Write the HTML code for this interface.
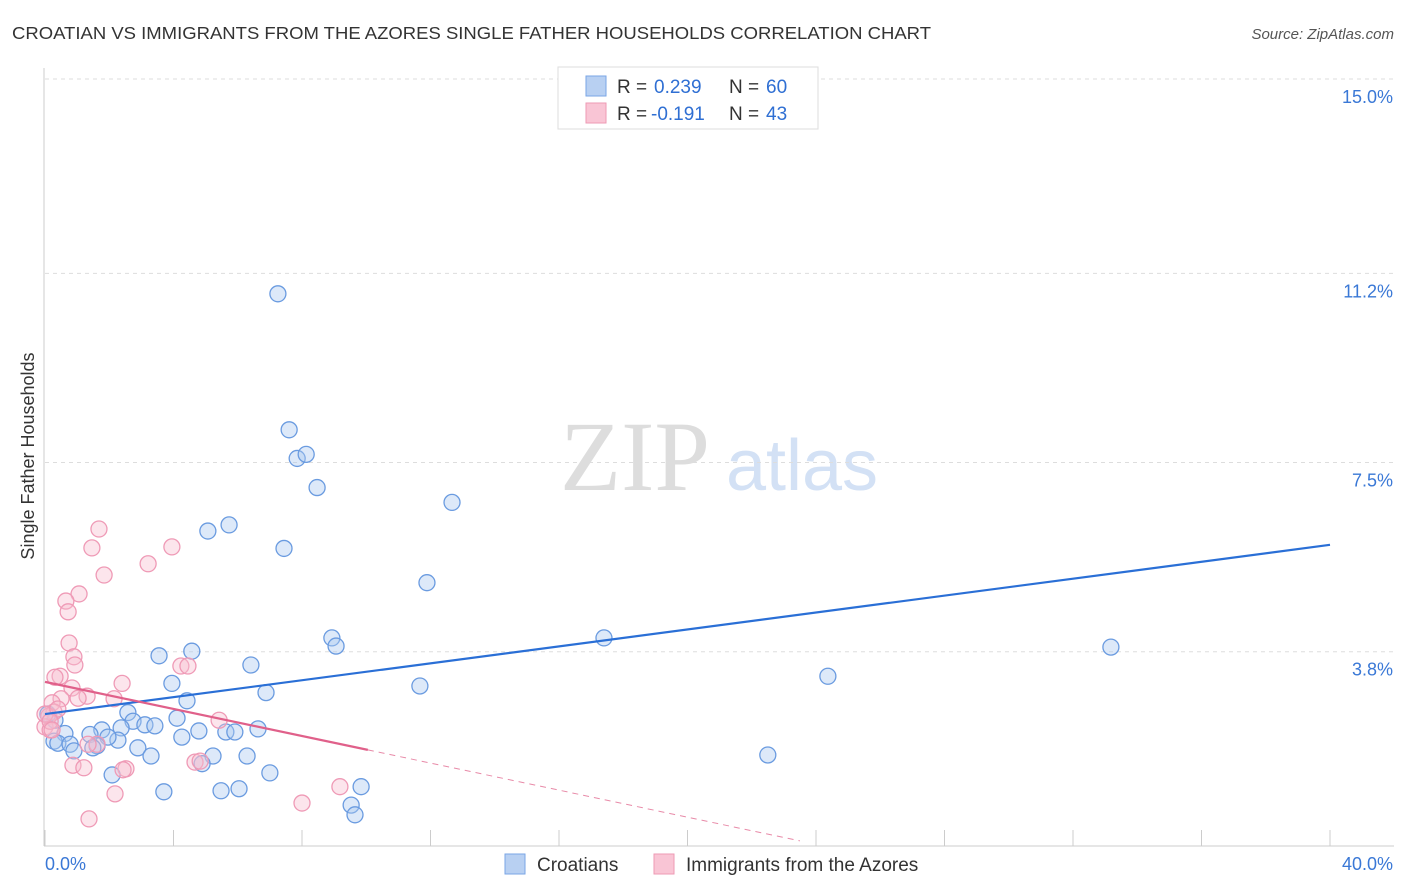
<!DOCTYPE html>
<html><head><meta charset="utf-8"><style>
body{margin:0;background:#fff;font-family:"Liberation Sans",sans-serif;}
svg{display:block}
</style></head><body>
<svg width="1406" height="892" viewBox="0 0 1406 892" xmlns="http://www.w3.org/2000/svg">
<text x="12" y="39" font-size="17.5" fill="#333" textLength="919" lengthAdjust="spacingAndGlyphs">CROATIAN VS IMMIGRANTS FROM THE AZORES SINGLE FATHER HOUSEHOLDS CORRELATION CHART</text>
<text x="1394" y="39" font-size="15" fill="#555" font-style="italic" text-anchor="end">Source: ZipAtlas.com</text>
<text x="635" y="490" font-size="100" fill="#ddd" font-family="Liberation Serif,serif" text-anchor="middle">ZIP</text>
<text x="802" y="490" font-size="72" fill="#d3e1f5" text-anchor="middle">atlas</text>
<g id="grid"></g>
<line x1="44" y1="68" x2="44" y2="846" stroke="#ccc"/>
<line x1="44" y1="846" x2="1394" y2="846" stroke="#ccc"/>
<text x="34" y="456" font-size="18" fill="#333" text-anchor="middle" transform="rotate(-90 34 456)">Single Father Households</text>
<g id="pts"></g>
<g id="trend"></g>
<g>
<rect x="558" y="67" width="260" height="62" fill="#fff" stroke="#ddd"/>
<rect x="586" y="76" width="20" height="20" fill="#b8d0f2" stroke="#7aa6e6"/>
<rect x="586" y="103" width="20" height="20" fill="#f9c5d5" stroke="#ee9ab4"/>
<text x="617" y="93" font-size="19" fill="#333">R =</text>
<text x="654" y="93" font-size="19" fill="#2f6fd3">0.239</text>
<text x="729" y="93" font-size="19" fill="#333">N =</text>
<text x="766" y="93" font-size="19" fill="#2f6fd3">60</text>
<text x="617" y="120" font-size="19" fill="#333">R =</text>
<text x="651" y="120" font-size="19" fill="#2f6fd3">-0.191</text>
<text x="729" y="120" font-size="19" fill="#333">N =</text>
<text x="766" y="120" font-size="19" fill="#2f6fd3">43</text>
</g>
<text x="45" y="870" font-size="18" fill="#3a78d6">0.0%</text>
<text x="1393" y="870" font-size="18" fill="#3a78d6" text-anchor="end">40.0%</text>
<g>
<rect x="505" y="854" width="20" height="20" fill="#b8d0f2" stroke="#7aa6e6"/>
<text x="537" y="871" font-size="19" fill="#333">Croatians</text>
<rect x="654" y="854" width="20" height="20" fill="#f9c5d5" stroke="#ee9ab4"/>
<text x="686" y="871" font-size="19" fill="#333">Immigrants from the Azores</text>
</g>
</svg>
<script>
const yTicks=[15.0,11.2,7.5,3.8];
const yTickLabels=["15.0%","11.2%","7.5%","3.8%"];
const xTicks=[0,4,8,12,16,20,24,28,32,36,40];
const croatX=[7.25,7.6,7.85,8.13,8.47,12.67,5.73,5.07,7.44,11.89,17.4,33.18,8.93,9.06,3.55,4.57,6.41,3.95,6.88,11.67,24.37,4.42,2.58,4.11,2.74,3.11,3.42,0.31,0.09,1.77,2.37,1.4,0.62,4.79,5.63,5.91,6.63,4.26,2.27,1.96,0.28,0.40,0.78,1.62,1.49,2.89,0.90,3.30,5.23,6.29,4.89,22.5,2.09,7.0,3.7,5.48,6.04,9.84,9.53,9.65];
const croatY=[10.8,8.14,7.58,7.66,7.01,6.72,6.28,6.16,5.82,5.15,4.07,3.89,4.07,3.91,3.72,3.81,3.54,3.18,3.0,3.13,3.32,2.84,2.61,2.5,2.44,2.37,2.35,2.46,2.58,2.27,2.31,2.18,2.2,2.25,2.23,2.23,2.29,2.13,2.07,2.13,2.05,2.01,1.99,1.96,1.92,1.92,1.86,1.76,1.76,1.76,1.61,1.78,1.39,1.43,1.06,1.08,1.12,1.16,0.80,0.61];
const azoresX=[1.68,1.46,3.95,1.84,3.21,1.06,0.65,0.72,0.75,0.90,0.93,4.23,4.45,0.47,2.40,0.31,0.84,1.31,1.03,0.50,2.15,0.22,0.28,0.12,5.42,0,0.16,1.62,0.87,1.21,2.52,4.67,9.18,2.18,8.0,1.37,0,0.40,1.34,2.43,4.83,0.16,0.22];
const azoresY=[6.2,5.83,5.85,5.3,5.52,4.93,4.79,4.58,3.97,3.7,3.54,3.52,3.52,3.32,3.18,3.3,3.09,2.93,2.89,2.88,2.88,2.80,2.62,2.54,2.46,2.33,2.27,1.99,1.58,1.53,1.51,1.64,1.16,1.02,0.84,0.53,2.58,2.68,1.99,1.49,1.66,2.44,2.27];
const blueTrend=[2.58,5.89];
const pinkStart=[0,3.21], pinkSolidEnd=[10.05,1.88], pinkDashEnd=[23.5,0.1];
const X=v=>45+v*32.125, Y=v=>846-v*51.13;
const NS="http://www.w3.org/2000/svg";
function mk(t,a,p){const e=document.createElementNS(NS,t);for(const k in a)e.setAttribute(k,a[k]);p.appendChild(e);return e;}
const grid=document.getElementById('grid');
yTicks.forEach((v,i)=>{
 const l=mk('line',{x1:45,x2:1394,y1:Y(v),y2:Y(v),stroke:'#ddd','stroke-dasharray':'4,4'},grid);
 
 
 const t=mk('text',{x:1393,y:Y(v)+24,'font-size':18,fill:'#3a78d6','text-anchor':'end'},grid);
 t.textContent=yTickLabels[i];
 
 
});
xTicks.forEach(v=>{
 const l=mk('line',{x1:X(v),x2:X(v),y1:830,y2:846,stroke:'#ccc'},grid);
 
 
});
const pts=document.getElementById('pts');
croatX.forEach((x,i)=>{
 const c=mk('circle',{cx:X(x),cy:Y(croatY[i]),r:8,fill:'rgba(170,200,240,0.4)',stroke:'#6a9be0','stroke-width':1.3},pts);
 
 
});
azoresX.forEach((x,i)=>{
 const c=mk('circle',{cx:X(x),cy:Y(azoresY[i]),r:8,fill:'rgba(248,190,208,0.4)',stroke:'#ef9ab6','stroke-width':1.3},pts);
 
 
});
const tr=document.getElementById('trend');
const b=mk('line',{x1:X(0),y1:Y(blueTrend[0]),x2:X(40),y2:Y(blueTrend[1]),stroke:'#2a6fd6','stroke-width':2.2},tr);


const p=mk('line',{x1:X(pinkStart[0]),y1:Y(pinkStart[1]),x2:X(pinkSolidEnd[0]),y2:Y(pinkSolidEnd[1]),stroke:'#e0608a','stroke-width':2.2},tr);


const pd=mk('line',{x1:X(pinkSolidEnd[0]),y1:Y(pinkSolidEnd[1]),x2:X(pinkDashEnd[0]),y2:Y(pinkDashEnd[1]),stroke:'#e88aa8','stroke-width':1,'stroke-dasharray':'6,5'},tr);


</script>
</body></html>
